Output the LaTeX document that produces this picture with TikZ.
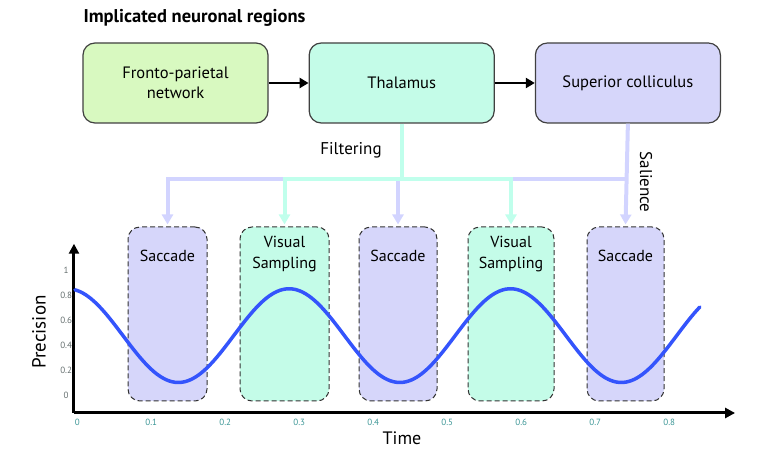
\documentclass[tikz,border=0pt]{standalone}
\usepackage{fontspec}
\setmainfont{PT Sans}
\usepackage{tikz}
\usetikzlibrary{positioning}
\usetikzlibrary{arrows.meta}
\usepackage{xcolor}

\definecolor{fpgreen}{RGB}{216,249,192}
\definecolor{thcyan}{RGB}{196,252,232}
\definecolor{scpurple}{RGB}{214,214,250}
\definecolor{filtline}{RGB}{192,255,236}
\definecolor{salline}{RGB}{210,212,255}
\definecolor{curveblue}{RGB}{52,84,252}
\definecolor{xtickc}{RGB}{60,150,150}
\definecolor{ytickc}{RGB}{100,110,110}

\begin{document}
\begin{tikzpicture}[x=1pt, y=-1pt,
    region/.style={draw=black!75, line width=1.2pt, rounded corners=12pt, minimum width=185pt, minimum height=80pt, align=center, font=\fontsize{16.5}{20}\selectfont},
    phasebox/.style={draw=black!80, line width=1pt, dash pattern=on 5pt off 3pt, rounded corners=12pt, minimum height=174pt},
    phasetext/.style={anchor=north, align=center, font=\fontsize{16}{21}\selectfont},
    flow/.style={line width=2.5pt, -{Triangle[length=9pt, width=10pt]}},
    salflow/.style={draw=salline, line width=4pt},
    filtflow/.style={draw=filtline, line width=4pt},
    tip/.style={-{Triangle[length=10pt, width=11pt]}, shorten >=2pt}]
    \useasboundingbox (0,0) rectangle (761,462);

    % neuronal regions
    \node[anchor=west, font=\fontsize{18.5}{22}\selectfont\bfseries] (title) at (80,18) {Implicated neuronal regions};
    \node[region, fill=fpgreen] (fpn) at (175.5,83) {Fronto-parietal\\network};
    \node[region, fill=thcyan, right=40pt of fpn] (thal) {Thalamus};
    \node[region, fill=scpurple, right=40pt of thal] (sc) {Superior colliculus};
    \draw[flow] (fpn) -- (thal);
    \draw[flow] (thal) -- (sc);

    % saccade / sampling windows
    \node[phasebox, fill=scpurple, minimum width=79pt] (sac1) at (167.5,314) {};
    \node[phasebox, fill=thcyan, minimum width=89pt] (vis1) at (284.5,314) {};
    \node[phasebox, fill=scpurple, minimum width=78pt] (sac2) at (398,314) {};
    \node[phasebox, fill=thcyan, minimum width=86pt] (vis2) at (511,314) {};
    \node[phasebox, fill=scpurple, minimum width=77pt] (sac3) at (625.5,314) {};
    \node[phasetext] (sac1t) at ([yshift=-20pt]sac1.north) {Saccade};
    \node[phasetext] (vis1t) at ([yshift=-6pt]vis1.north) {Visual\\Sampling};
    \node[phasetext] (sac2t) at ([yshift=-20pt]sac2.north) {Saccade};
    \node[phasetext] (vis2t) at ([yshift=-6pt]vis2.north) {Visual\\Sampling};
    \node[phasetext] (sac3t) at ([yshift=-20pt]sac3.north) {Saccade};

    % salience and filtering
    \coordinate (bus) at (0,179);
    \draw[salflow, tip] (sc.south) -- (sac3.north);
    \draw[salflow, tip] (sc.south |- bus) -| (sac1.north);
    \draw[salflow, tip] (sac2.north |- bus) -- (sac2.north);
    \draw[filtflow] (thal.south) -- (thal.south |- bus);
    \draw[filtflow, tip] (thal.south |- bus) -| (vis1.north);
    \draw[filtflow, tip] (thal.south |- bus) -| (vis2.north);
    \node[font=\fontsize{17}{20}\selectfont] (filt) at (351,150) {Filtering};
    \node[font=\fontsize{17}{20}\selectfont, rotate=-90] (sal) at (646,182) {Salience};

    % precision over time
    \begin{scope}[shift={(75,395)}, x=740pt, y=125pt]
        \draw[line width=3pt, -{Triangle[length=10pt, width=10pt]}] (-0.0014,-0.144)--(0.892,-0.144);
        \draw[line width=3pt, -{Triangle[length=10pt, width=10pt]}] (-0.0014,-0.144)--(-0.0014,1.21);
        \foreach \t in {0,1,...,8}
            \node[text=xtickc, font=\fontsize{9}{10}\selectfont] (xt\t) at (0.1*\t+0.003,-0.216) {\ifnum\t=0 0\else 0.\t\fi};
        \foreach \p/\lab in {0/0,1/0.2,2/0.4,3/0.6,4/0.8,5/1}
            \node[text=ytickc, font=\fontsize{9}{10}\selectfont] (yt\p) at (-0.012,0.2*\p) {\lab};
        \draw[curveblue, line width=3.5pt, line cap=round] plot[domain=0:0.846, samples=120, smooth] (\x, {0.475+0.375*cos(360*(\x+0.01)/0.2993)});
    \end{scope}
    \node[font=\fontsize{19}{21}\selectfont, rotate=90] (prec) at (39,332) {Precision};
    \node[font=\fontsize{18}{20}\selectfont] (time) at (402,438) {Time};
\end{tikzpicture}
\end{document}
